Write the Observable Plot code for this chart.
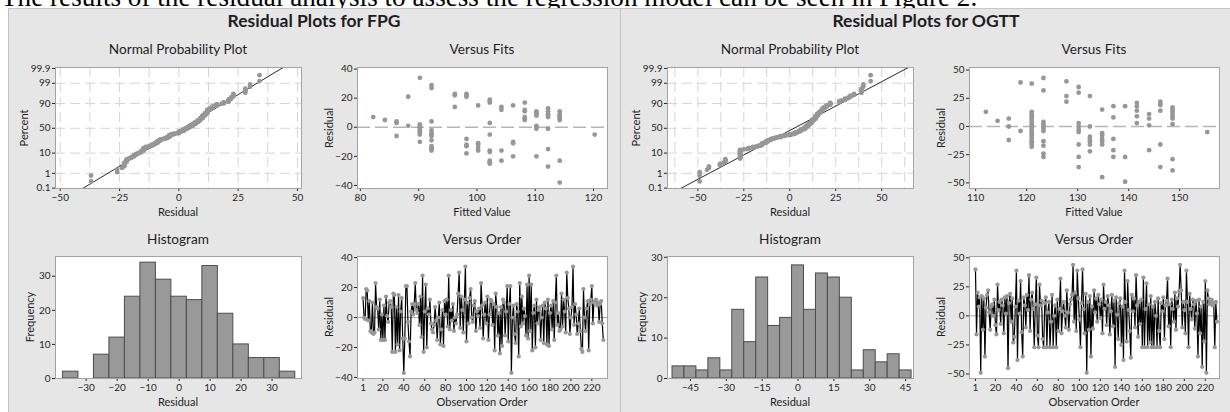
<!DOCTYPE html>
<html><head><meta charset="utf-8">
<script src="https://cdn.jsdelivr.net/npm/d3@7"></script>
<script src="https://cdn.jsdelivr.net/npm/@observablehq/plot@0.6"></script>
<style>
html,body{margin:0;padding:0;}
body{width:1230px;height:412px;overflow:hidden;background:#fff;position:relative;font-family:Lato,"Noto Sans",sans-serif;color:#1e1e1e;}
.lead{position:absolute;left:1px;top:-16.5px;font-family:"Liberation Serif","DejaVu Serif",serif;font-size:27.2px;line-height:26px;white-space:nowrap;color:#000;}
.panel{position:absolute;top:8px;height:410px;background:#e6e6e6;border-top:1px solid #c8c8c8;border-left:1px solid #c2c2c2;box-sizing:border-box;}
.ptitle{position:absolute;text-align:center;font-weight:700;font-size:17.5px;line-height:20px;}
.t{position:absolute;white-space:nowrap;line-height:1;}
.st{font-size:13.6px;}
.al{font-size:11px;}
.cell{position:absolute;}
.cell svg{overflow:visible;}
</style></head>
<body>
<script>
// ---------- data ----------
const leadText = "The results of the residual analysis to assess the regression model can be seen in Figure 2.";
const panelTitles = ["Residual Plots for FPG", "Residual Plots for OGTT"];
const subTitles = ["Normal Probability Plot", "Versus Fits", "Histogram", "Versus Order"];

// normal probability axis
const npPercentTicks = [0.1, 1, 10, 50, 90, 99, 99.9];
const npPercentLabels = ["0.1", "1", "10", "50", "90", "99", "99.9"];
const npGridPercent = [1, 10, 50, 90, 99];

// FPG residuals in observation order
const fpgOrder = [
 13, 0, -1, 19, 18, -2, 11, -9, -10, 10,
 -11, -10, 23, 7, 6, -8, 12, -15, 2, -15,
 8, -15, 14, 1, -3, 10, 11, 7, -23, 16,
 15, -23, 7, -18, 15, -22, 4, 13, -14, -37,
 -14, 21, 21, -3, -16, -26, 4, 9, 2, 9,
 23, 5, 3, 9, -5, 14, -13, 28, -23, 4,
 22, -20, 6, 2, 12, -4, -8, -10, -5, 7,
 -2, -15, 0, 10, -18, -8, 5, -19, 11, 2,
 12, -6, 28, -8, 5, -2, 9, -9, 0, -4,
 2, 16, 30, -7, 14, 5, -10, 12, 34, -16,
 10, -4, 13, 19, 0, -3, 8, 11, -9, 4,
 1, 6, -7, 23, 8, -14, 2, 10, -4, 14,
 -15, 2, 12, 11, -5, 9, -22, 16, 7, -12,
 3, -24, 7, -19, 12, 10, -12, 4, 21, -16,
 9, 21, -37, 0, 8, -11, -17, 9, 4, -26,
 23, -6, 14, -4, 6, 1, -12, 22, -14, 28,
 -9, 22, -22, 3, 8, -20, 12, -4, 5, 7,
 -15, 0, 8, -17, 10, 6, -18, 12, -19, 3,
 8, -8, 11, -15, 10, 28, -5, 3, -9, -8,
 16, -6, 12, 4, -10, 30, 13, 6, -11, 0,
 7, 34, -5, 9, 2, -11, -4, 6, -9, -21,
 -23, 19, 0, -9, 6, 11, -22, 9, 12, 21,
 -4, 10, 11, 12, 8, 10, -3, 9, 11, -4, -15
];
// OGTT residuals in observation order
const ogttOrder = [
 40, -16, 20, 8, 16, -49, 17, -12, 15, -35,
 7, 18, 22, 3, -12, 8, 10, 0, 14, -8,
 -16, 27, 5, 12, -7, 14, 9, -15, 16, 2,
 17, -45, 11, 19, -5, 15, -23, -18, 8, 39,
 -38, 13, 2, 30, -14, -35, 16, 9, -10, 18,
 5, 35, -13, 14, 20, 6, -27, 10, 33, -17,
 -27, 27, 9, 13, -20, -27, 11, 16, -27, 3,
 12, -27, -5, 18, -27, 0, 9, -27, 14, -13,
 6, 32, -15, 4, 12, 0, -10, 22, 3, -12,
 10, 14, 18, 44, -5, 20, -13, 39, 15, -3,
 -27, 11, 40, 6, -15, 19, -49, 12, -12, 17,
 -35, 8, -11, 22, 3, 15, -5, 18, 10, -2,
 14, -15, 27, 6, 12, -8, 17, 9, -16, 4,
 18, -9, 13, -44, 16, 1, -20, 11, 15, -25,
 8, -38, 39, 12, -22, 30, 5, -13, -36, 18,
 4, 15, -10, 35, 9, -18, 12, -7, 14, -27,
 33, -27, 6, 28, -27, 10, -23, 17, -27, 8,
 -27, 12, 0, -27, 15, -13, -27, 11, 4, 16,
 -20, 9, 13, 32, -9, 10, -27, 14, 6, -5,
 20, -12, 15, 8, 21, 44, 22, -10, 12, 5,
 -15, 39, 12, -27, 19, 6, -3, 14, 10, -11,
 13, 2, -35, 14, -15, 8, -44, 12, -22, 30,
 -49, 22, 15, 10, 13, 14, 9, 11, -27, 12, -5
];

// Versus fits: fitted value levels and the residuals seen at each level
const fpgFitLevels = [82.2, 84.2, 86.2, 88.2, 90.2, 92.2, 96.2, 98.2, 100.2, 102.2, 104.2, 106.2, 108.2, 110.2, 112.2, 114.2, 120.2];
const fpgFitResiduals = [[7],[5],[3,4,-6],[21,1],[34,2,1,0,-1,-2,-3,-4,-5,-10],[29,27,4,-2,-4,-5,-6,-9,-13,-14,-15,-16],[23,22,14],[23,22,21,-8,-12,-13,-18],[15,-11,-12,-14,-16],[19,18,17,3,-5,-16,-17,-23,-24,-25],[14,12,-16,-23],[15,-10,-11,-20],[17,12,11,7,6,5],[11,10,9,8,1,0,-1,-20],[13,11,9,8,7,-1,-15,-27],[11,9,8,7,6,5,-23,-38],[-5]];
const ogttFitLevels = [112, 114.3, 116.5, 118.8, 121, 123.3, 127.8, 130.2, 132.4, 134.8, 137, 139.3, 141.6, 144, 146.2, 148.6, 155.4];
const ogttFitResiduals = [[13],[5],[7,0,-12],[39,-4],[38,13,11,10,8,6,4,2,0,-2,-4,-6,-8,-10,-12,-13,-14,-16,-18],[43,32,4,2,0,-2,-4,-13,-17,-24,-27],[40,27,22],[35,30,3,0,-3,-5,-16,-27,-36],[27,0,-9,-11,-13,-16,-22],[15,-6,-8,-11,-13,-16,-45],[18,8,-11,-21,-27],[18,-27,-49],[21,18,14,9,3],[11,7,1,-21],[22,20,19,14,-16,-36],[17,15,13,11,9,7,2,-29,-39],[-5]];

// Histograms: bin centres (width 5) and frequencies
const fpgHistCenters = [-35, -30, -25, -20, -15, -10, -5, 0, 5, 10, 15, 20, 25, 30, 35];
const fpgHistCounts  = [2, 0, 7, 12, 24, 34, 29, 24, 23, 33, 19, 10, 6, 6, 2];
const ogttHistCenters = [-50, -45, -40, -35, -30, -25, -20, -15, -10, -5, 0, 5, 10, 15, 20, 25, 30, 35, 40, 45];
const ogttHistCounts  = [3, 3, 2, 5, 2, 17, 9, 25, 13, 15, 28, 17, 26, 25, 20, 2, 7, 4, 6, 2];

// axis ticks
const fpgNpXTicks = [-50, -25, 0, 25, 50];
const fpgNpGridX = [-50, -37.5, -25, -12.5, 0, 12.5, 25, 37.5, 50];
const ogttNpXTicks = [-50, -25, 0, 25, 50];
const ogttNpGridX = [-62.5, -50, -37.5, -25, -12.5, 0, 12.5, 25, 37.5, 50, 62.5];
const fpgFitXTicks = [80, 90, 100, 110, 120];
const ogttFitXTicks = [110, 120, 130, 140, 150];
const fpgResTicks = [-40, -20, 0, 20, 40];
const ogttResTicks = [-50, -25, 0, 25, 50];
const fpgHistXTicks = [-30, -20, -10, 0, 10, 20, 30];
const ogttHistXTicks = [-45, -30, -15, 0, 15, 30, 45];
const freqTicks = [0, 10, 20, 30];
const orderTicks = [1, 20, 40, 60, 80, 100, 120, 140, 160, 180, 200, 220];

// ---------- helpers ----------
function probit(p) {
  const a=[-3.969683028665376e+01,2.209460984245205e+02,-2.759285104469687e+02,1.383577518672690e+02,-3.066479806614716e+01,2.506628277459239e+00];
  const b=[-5.447609879822406e+01,1.615858368580409e+02,-1.556989798598866e+02,6.680131188771972e+01,-1.328068155288572e+01];
  const c=[-7.784894002430293e-03,-3.223964580411365e-01,-2.400758277161838e+00,-2.549732539343734e+00,4.374664141464968e+00,2.938163982698783e+00];
  const d=[7.784695709041462e-03,3.224671290700398e-01,2.445134137142996e+00,3.754408661907416e+00];
  const pl = 0.02425, ph = 1 - pl;
  let q, r;
  if (p < pl) { q = Math.sqrt(-2*Math.log(p)); return (((((c[0]*q+c[1])*q+c[2])*q+c[3])*q+c[4])*q+c[5])/((((d[0]*q+d[1])*q+d[2])*q+d[3])*q+1); }
  if (p <= ph) { q = p-0.5; r = q*q; return (((((a[0]*r+a[1])*r+a[2])*r+a[3])*r+a[4])*r+a[5])*q/(((((b[0]*r+b[1])*r+b[2])*r+b[3])*r+b[4])*r+1); }
  q = Math.sqrt(-2*Math.log(1-p)); return -(((((c[0]*q+c[1])*q+c[2])*q+c[3])*q+c[4])*q+c[5])/((((d[0]*q+d[1])*q+d[2])*q+d[3])*q+1);
}
const npTickZ = npPercentTicks.map(p => probit(p/100));
const npGridZ = npGridPercent.map(p => probit(p/100));
const npFormat = z => { const i = npTickZ.findIndex(t => Math.abs(t - z) < 1e-9); return i >= 0 ? npPercentLabels[i] : ""; };

function addDiv(cls, txt, style) {
  const el = document.createElement("div");
  el.className = cls; el.textContent = txt;
  Object.assign(el.style, style);
  document.body.appendChild(el);
  return el;
}
function centered(cls, txt, cx, cy, rot) {
  addDiv("t " + cls, txt, {left: cx + "px", top: cy + "px", transform: "translate(-50%,-50%)" + (rot ? " rotate(-90deg)" : "")});
}
function place(left, top, svg) {
  const w = document.createElement("div");
  w.className = "cell"; w.style.left = left + "px"; w.style.top = top + "px";
  w.appendChild(svg); document.body.appendChild(w);
}

const GRID = "#d6d6d6", FRAME = "#a3a3a3", DOT = "#979797";
const baseStyle = {background: "transparent", fontFamily: "Lato, 'Noto Sans', sans-serif", fontSize: "10px", color: "#262626", overflow: "visible"};

// geometry of the four cells (page coordinates, left panel)
const TOP = {top: 58, height: 152, marginTop: 9, marginBottom: 22};
const BOT = {top: 246, height: 152, marginTop: 10, marginBottom: 20};
const C1 = {left: 8, width: 300, marginLeft: 47, marginRight: 7};
const C2 = {left: 308, width: 305, marginLeft: 49, marginRight: 6};

function opts(row, col, x, y, marks) {
  return {
    width: col.width, height: row.height,
    marginLeft: col.marginLeft, marginRight: col.marginRight,
    marginTop: row.marginTop, marginBottom: row.marginBottom,
    style: baseStyle,
    x: Object.assign({label: null, tickSize: 3, tickPadding: 2}, x),
    y: Object.assign({label: null, tickSize: 3, tickPadding: 2}, y),
    marks
  };
}

// ---------- page ----------
addDiv("lead", leadText, {});

const sets = [
  {ox: 0, title: panelTitles[0], order: fpgOrder, fitLevels: fpgFitLevels, fitRes: fpgFitResiduals,
   histC: fpgHistCenters, histN: fpgHistCounts,
   npXDom: [-52, 51.7], npXTicks: fpgNpXTicks, npGridX: fpgNpGridX,
   fitXDom: [79.5, 122.4], fitXTicks: fpgFitXTicks, resDomFit: [-42.1, 41.1], resTicks: fpgResTicks,
   histXDom: [-39.9, 39.5], histXTicks: fpgHistXTicks, histYDom: [0, 35.8],
   orderYDom: [-40.7, 40.7], orderXDom: [-4.3, 235]},
  {ox: 612, title: panelTitles[1], order: ogttOrder, fitLevels: ogttFitLevels, fitRes: ogttFitResiduals,
   histC: ogttHistCenters, histN: ogttHistCounts,
   npXDom: [-66.5, 67.3], npXTicks: ogttNpXTicks, npGridX: ogttNpGridX,
   fitXDom: [108.8, 157.8], fitXTicks: ogttFitXTicks, resDomFit: [-55, 52.3], resTicks: ogttResTicks,
   histXDom: [-54.6, 48.3], histXTicks: ogttHistXTicks, histYDom: [0, 30.2],
   orderYDom: [-53.9, 51.1], orderXDom: [-4.7, 233.5]}
];

sets.forEach(s => {
  const ox = s.ox;
  addDiv("panel", "", {left: (8 + ox) + "px", width: "612px"});
  addDiv("ptitle", s.title, {left: (8 + ox) + "px", width: "612px", top: "11px"});

  // --- Normal probability plot ---
  const sorted = s.order.slice().sort((a, b) => a - b);
  const n = sorted.length;
  const npPts = sorted.map((v, i) => ({x: v, z: probit((i + 1 - 0.3) / (n + 0.4))}));
  const mu = d3.mean(s.order), sd = d3.deviation(s.order);
  const zEnds = [-3.2, 3.2];
  place(C1.left + ox, TOP.top, Plot.plot(opts(TOP, C1,
    {domain: s.npXDom, ticks: s.npXTicks},
    {domain: [-3.11, 3.14], ticks: npTickZ, tickFormat: npFormat},
    [
      Plot.frame({fill: "white"}),
      Plot.ruleX(s.npGridX, {stroke: GRID, strokeDasharray: "10,5"}),
      Plot.ruleY(npGridZ, {stroke: GRID, strokeDasharray: "10,5"}),
      Plot.line(zEnds, {x: z => mu + sd * z, y: z => z, stroke: "#111", strokeWidth: 0.9, clip: true}),
      Plot.dot(npPts, {x: "x", y: "z", r: 2.4, fill: DOT, stroke: "none"}),
      Plot.frame({stroke: FRAME})
    ])));

  // --- Versus fits ---
  const fits = s.fitLevels.flatMap((f, i) => s.fitRes[i].map(r => ({f, r})));
  place(C2.left + ox, TOP.top, Plot.plot(opts(TOP, C2,
    {domain: s.fitXDom, ticks: s.fitXTicks},
    {domain: s.resDomFit, ticks: s.resTicks},
    [
      Plot.frame({fill: "white"}),
      Plot.ruleY([0], {stroke: "#b5b5b5", strokeWidth: 1.3, strokeDasharray: "13,5"}),
      Plot.dot(fits, {x: "f", y: "r", r: 2.4, fill: DOT, stroke: "none"}),
      Plot.frame({stroke: FRAME})
    ])));

  // --- Histogram ---
  place(C1.left + ox, BOT.top, Plot.plot(opts(BOT, C1,
    {domain: s.histXDom, ticks: s.histXTicks},
    {domain: s.histYDom, ticks: freqTicks},
    [
      Plot.frame({fill: "white"}),
      Plot.rectY(s.histN, {x1: (d, i) => s.histC[i] - 2.5, x2: (d, i) => s.histC[i] + 2.5, y1: 0, y2: d => d,
        fill: "#999999", stroke: "#4d4d4d", strokeWidth: 1, inset: 0}),
      Plot.frame({stroke: FRAME})
    ])));

  // --- Versus order ---
  place(C2.left + ox, BOT.top, Plot.plot(opts(BOT, C2,
    {domain: s.orderXDom, ticks: orderTicks},
    {domain: s.orderYDom, ticks: s.resTicks},
    [
      Plot.frame({fill: "white"}),
      Plot.ruleY([0], {stroke: "#a8a8a8", strokeWidth: 1}),
      Plot.line(s.order, {x: (d, i) => i + 1, y: d => d, stroke: "#000", strokeWidth: 1.2}),
      Plot.dot(s.order, {x: (d, i) => i + 1, y: d => d, r: 2.1, fill: DOT, stroke: "none"}),
      Plot.frame({stroke: FRAME})
    ])));

  // titles and axis labels
  centered("st", subTitles[0], 178 + ox, 50);
  centered("st", subTitles[1], 482 + ox, 50);
  centered("st", subTitles[2], 178 + ox, 240);
  centered("st", subTitles[3], 482 + ox, 240);
  centered("al", "Residual", 178 + ox, 210.5);
  centered("al", "Fitted Value", 482 + ox, 210.5);
  centered("al", "Residual", 178 + ox, 400.5);
  centered("al", "Observation Order", 482 + ox, 400.5);
  centered("al", "Percent", 23 + ox, 127.5, true);
  centered("al", "Residual", 328 + ox, 127.5, true);
  centered("al", "Frequency", 29 + ox, 317, true);
  centered("al", "Residual", 328 + ox, 317, true);
});
</script>
</body></html>
